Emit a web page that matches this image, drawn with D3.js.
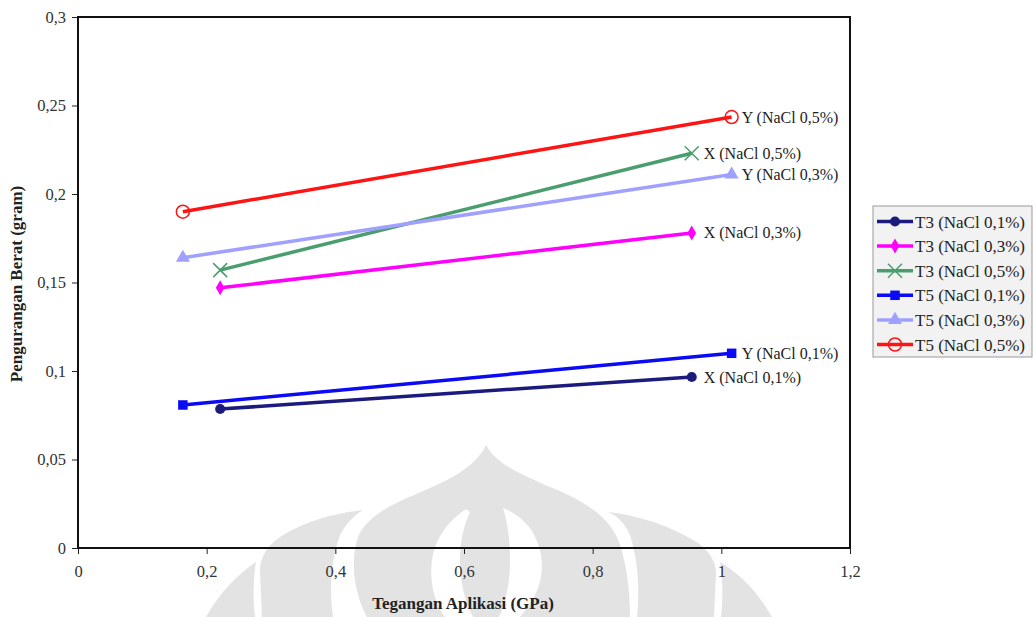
<!DOCTYPE html>
<html>
<head>
<meta charset="utf-8">
<script src="https://cdn.jsdelivr.net/npm/d3@7"></script>
<style>
  html, body { margin: 0; padding: 0; background: #ffffff; }
  svg { display: block; font-family: "Liberation Serif", "Times New Roman", serif; }
</style>
</head>
<body>
<svg id="chart" width="1033" height="617"></svg>
<script>
// Applied stress (GPa) for each specimen group
const xT3 = [0.221, 0.954];
const xT5 = [0.163, 1.016];

// Weight loss (gram) per series
const seriesNames = ["T3 (NaCl 0,1%)", "T3 (NaCl 0,3%)", "T3 (NaCl 0,5%)",
                     "T5 (NaCl 0,1%)", "T5 (NaCl 0,3%)", "T5 (NaCl 0,5%)"];
const t3Nacl01 = [0.0785, 0.0966];
const t3Nacl03 = [0.147, 0.178];
const t3Nacl05 = [0.157, 0.223];
const t5Nacl01 = [0.0808, 0.110];
const t5Nacl03 = [0.164, 0.211];
const t5Nacl05 = [0.190, 0.2435];

// Text placed at the right end of each line
const endLabels = ["X (NaCl 0,1%)", "X (NaCl 0,3%)", "X (NaCl 0,5%)",
                   "Y (NaCl 0,1%)", "Y (NaCl 0,3%)", "Y (NaCl 0,5%)"];

const xTicks = [0, 0.2, 0.4, 0.6, 0.8, 1, 1.2];
const yTicks = [0, 0.05, 0.1, 0.15, 0.2, 0.25, 0.3];

const styles = [
  { color: "#1b1b7e", marker: "circle" },
  { color: "#ff00ff", marker: "diamond" },
  { color: "#4a9e6e", marker: "cross" },
  { color: "#0a0af5", marker: "square" },
  { color: "#a0a0ff", marker: "triangle" },
  { color: "#ff1414", marker: "ring" }
];

const series = [
  { xs: xT3, ys: t3Nacl01 }, { xs: xT3, ys: t3Nacl03 }, { xs: xT3, ys: t3Nacl05 },
  { xs: xT5, ys: t5Nacl01 }, { xs: xT5, ys: t5Nacl03 }, { xs: xT5, ys: t5Nacl05 }
].map((s, i) => ({
  name: seriesNames[i],
  label: endLabels[i],
  style: styles[i],
  points: s.xs.map((x, j) => ({ x, y: s.ys[j] }))
}));

const svg = d3.select("#chart");
const plot = { left: 78, right: 850, top: 17, bottom: 548 };

const x = d3.scaleLinear().domain([0, 1.2]).range([plot.left, plot.right]);
const y = d3.scaleLinear().domain([0, 0.3]).range([plot.bottom, plot.top]);
const fmt = d => String(+d.toFixed(2)).replace(".", ",");

// Faint emblem in the page background
const emblem = svg.append("g").attr("fill", "#e3e3e3");
[
  "M486,445 C478,462 460,475 430,488 C395,503 365,515 357,540 C350,565 355,595 367,617 L630,617 C630,595 628,570 620,545 C612,520 590,503 550,487 C515,472 495,462 486,445 Z",
  "M363,510 C335,513 300,522 276,540 C264,550 260,560 260,572 L262,617 L333,617 C329,590 331,560 340,535 C347,522 355,515 363,510 Z",
  "M256,562 C238,574 220,592 206,617 L255,617 C253,600 253,580 256,562 Z",
  "M608,512 C637,515 672,526 698,543 C710,552 716,562 716,574 L714,617 L637,617 C640,590 638,560 630,535 C624,522 617,516 608,512 Z",
  "M720,562 C740,574 758,592 772,617 L721,617 C723,600 723,580 720,562 Z"
].forEach(d => emblem.append("path").attr("d", d));
const hollow = svg.append("g").attr("fill", "#ffffff");
[
  "M466,509 C450,520 436,535 432,560 C429,585 436,605 445,617 L473,617 C464,600 460,580 460,560 C460,540 464,525 470,512 Z",
  "M503,508 C520,515 536,528 541,555 C545,580 535,600 520,617 L499,617 C507,600 510,580 510,560 C510,540 508,525 503,508 Z"
].forEach(d => hollow.append("path").attr("d", d));

// Axes
const yAxis = d3.axisLeft(y).tickValues(yTicks).tickFormat(fmt).tickSize(6).tickPadding(6);
const xAxis = d3.axisBottom(x).tickValues(xTicks).tickFormat(fmt).tickSize(6).tickPadding(11);

const gy = svg.append("g").attr("transform", `translate(${plot.left},0)`).call(yAxis);
const gx = svg.append("g").attr("transform", `translate(0,${plot.bottom})`).call(xAxis);
[gx, gy].forEach(g => {
  g.select(".domain").remove();
  g.selectAll(".tick line").attr("stroke", "#222").attr("stroke-width", 1);
  g.selectAll(".tick text").attr("fill", "#333").style("font-size", "16.5px")
    .style("font-family", "'Liberation Serif', 'Times New Roman', serif");
});

// Plot frame
svg.append("rect")
  .attr("x", plot.left).attr("y", plot.top)
  .attr("width", plot.right - plot.left).attr("height", plot.bottom - plot.top)
  .attr("fill", "none").attr("stroke", "#111").attr("stroke-width", 2);

// Axis titles
svg.append("text")
  .attr("x", 463).attr("y", 609)
  .attr("text-anchor", "middle")
  .style("font-size", "17px").style("font-weight", "bold").attr("fill", "#222")
  .text("Tegangan Aplikasi (GPa)");
svg.append("text")
  .attr("transform", "translate(22,284) rotate(-90)")
  .attr("text-anchor", "middle")
  .style("font-size", "17px").style("font-weight", "bold").attr("fill", "#222")
  .text("Pengurangan Berat (gram)");

// Marker drawing
function drawMarker(g, kind, color, cx, cy) {
  const sym = {
    circle: d3.symbol(d3.symbolCircle, 80),
    diamond: d3.symbol(d3.symbolDiamond, 65),
    square: d3.symbol(d3.symbolSquare, 90),
    triangle: d3.symbol(d3.symbolTriangle, 85)
  };
  if (kind === "cross") {
    const r = 7;
    g.append("path")
      .attr("d", `M${cx - r},${cy - r}L${cx + r},${cy + r}M${cx - r},${cy + r}L${cx + r},${cy - r}`)
      .attr("stroke", color).attr("stroke-width", 1.5).attr("fill", "none");
  } else if (kind === "ring") {
    g.append("circle").attr("cx", cx).attr("cy", cy).attr("r", 6.5)
      .attr("fill", "none").attr("stroke", color).attr("stroke-width", 1.5);
  } else {
    g.append("path").attr("d", sym[kind]())
      .attr("transform", `translate(${cx},${cy})`)
      .attr("fill", color);
  }
}

const line = d3.line().x(d => x(d.x)).y(d => y(d.y));

const gLines = svg.append("g");
series.forEach(s => {
  const g = gLines.append("g");
  g.append("path").datum(s.points)
    .attr("d", line)
    .attr("fill", "none")
    .attr("stroke", s.style.color)
    .attr("stroke-width", 3.5);
  s.points.forEach(p => drawMarker(g, s.style.marker, s.style.color, x(p.x), y(p.y)));
  const last = s.points[s.points.length - 1];
  g.append("text")
    .attr("x", x(last.x) + (s.style.marker === "ring" || s.style.marker === "triangle" || s.style.marker === "square" ? 10 : 12))
    .attr("y", y(last.y) + 5.5)
    .style("font-size", "16px")
    .attr("fill", "#222")
    .text(s.label);
});

// Legend
const legend = svg.append("g");
legend.append("rect")
  .attr("x", 873).attr("y", 206).attr("width", 159).attr("height", 151)
  .attr("fill", "#f2f2f2").attr("stroke", "#9a9a9a").attr("stroke-width", 1);
series.forEach((s, i) => {
  const cy = 221.5 + i * 24.6;
  const g = legend.append("g");
  g.append("line").attr("x1", 877).attr("x2", 913).attr("y1", cy).attr("y2", cy)
    .attr("stroke", s.style.color).attr("stroke-width", 3.5);
  drawMarker(g, s.style.marker, s.style.color, 895, cy);
  g.append("text").attr("x", 915).attr("y", cy + 6)
    .style("font-size", "17px").attr("fill", "#222")
    .text(s.name);
});
</script>
</body>
</html>
